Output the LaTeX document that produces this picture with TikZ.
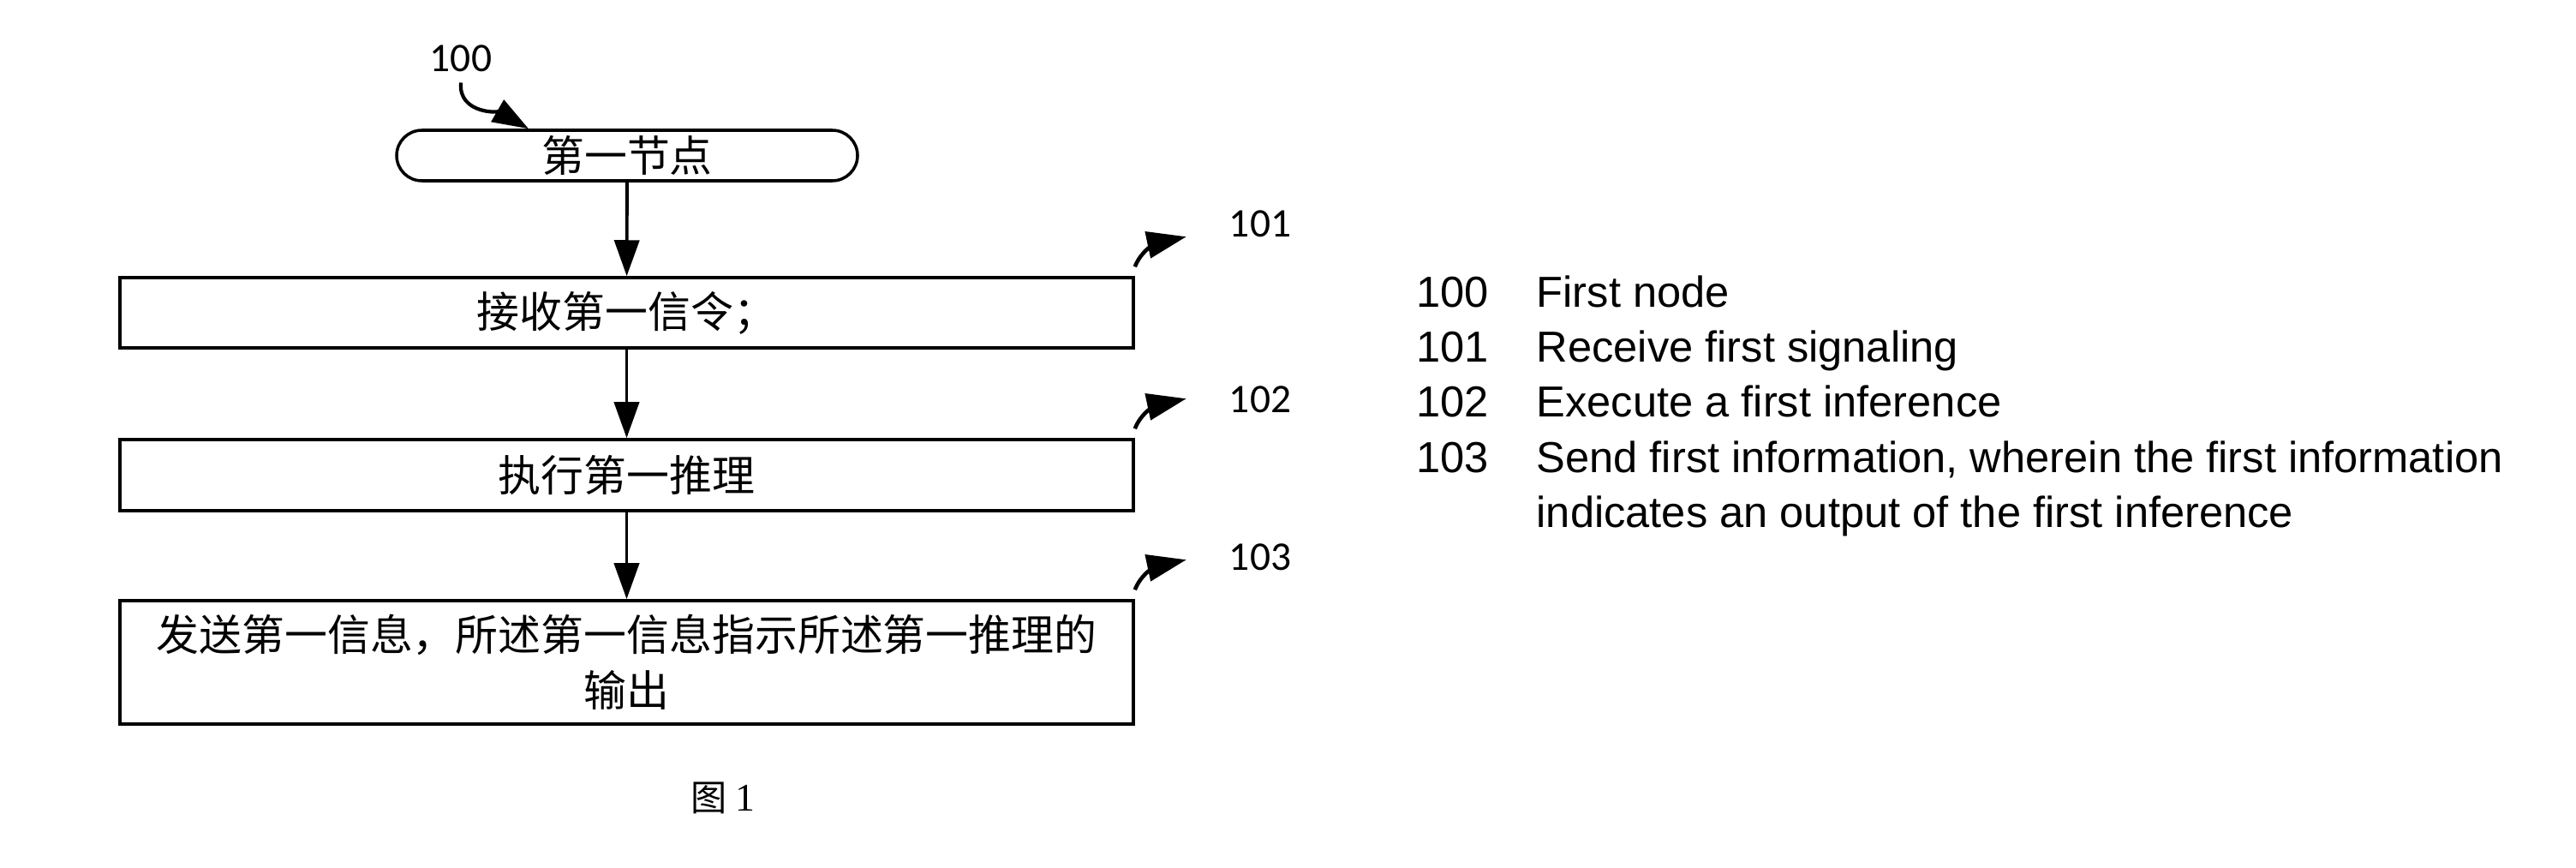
\documentclass[tikz,border=0pt]{standalone}
\usepackage{fontspec}
\setmainfont{Liberation Sans}
\newfontfamily\cjkfont{Noto Sans CJK SC}
\newfontfamily\reffont{Carlito}
\newfontfamily\capfont{Liberation Serif}
\usepackage{tikz}
\usetikzlibrary{arrows.meta,positioning}

\begin{document}
\begin{tikzpicture}[
  terminal/.style={draw, line width=1pt, rounded corners=2.95mm, minimum width=53.8mm, minimum height=5.9mm, inner sep=0pt, font=\cjkfont\fontsize{14.2pt}{18.4pt}\selectfont},
  stepbox/.style={draw, line width=1pt, minimum width=118.3mm, minimum height=8.2mm, inner sep=0pt, align=center, font=\cjkfont\fontsize{14.2pt}{18.4pt}\selectfont},
  refnum/.style={font=\reffont\fontsize{13.5pt}{16pt}\selectfont},
  legend/.style={anchor=base west, inner sep=0pt, font=\fontsize{14.4pt}{17pt}\selectfont},
  leader/.style={-{Triangle[length=4.6mm,width=3.1mm]}, line width=1.3pt},
  >={Triangle[length=4.2mm,width=2.9mm]}
]
\useasboundingbox (0,0) rectangle (30.07,-10.13);

% flow
\node[terminal] (n100) at (7.32,-1.815) {第一节点};
\node[stepbox]  (n101) at (7.315,-3.65) {接收第一信令；};
\node[stepbox, minimum height=8.3mm] (n102) at (7.315,-5.545) {执行第一推理};
\node[stepbox, minimum height=14.4mm] (n103) at (7.315,-7.73) {发送第一信息，所述第一信息指示所述第一推理的\\输出};

\draw[->, line width=1.1pt] (n100) -- (n101);
\draw[->, line width=1.1pt] (n101) -- (n102);
\draw[->, line width=1.1pt] (n102) -- (n103);

% reference numerals
\node[refnum] (l100) at (5.38,-0.685) {100};
\node[refnum] (l101) at (14.71,-2.61) {101};
\node[refnum] (l102) at (14.71,-4.665) {102};
\node[refnum] (l103) at (14.71,-6.50) {103};

\coordinate (p100) at ([xshift=-11.5mm]n100.north);
\draw[->, line width=1.2pt] (l100.south) to[out=-95,in=150] (p100);

\coordinate (s101) at ([yshift=1.1mm]n101.north east);
\coordinate (t101) at ([xshift=6mm,yshift=4.6mm]n101.north east);
\coordinate (s102) at ([yshift=1.1mm]n102.north east);
\coordinate (t102) at ([xshift=6mm,yshift=4.6mm]n102.north east);
\coordinate (s103) at ([yshift=1.1mm]n103.north east);
\coordinate (t103) at ([xshift=6mm,yshift=4.6mm]n103.north east);
\draw[leader] (s101) to[out=68,in=192] (t101);
\draw[leader] (s102) to[out=68,in=192] (t102);
\draw[leader] (s103) to[out=68,in=192] (t103);

% legend
\node[legend] (k100) at (16.53,-3.58) {100};
\node[legend] (d100) at (17.93,-3.58) {First node};
\node[legend] (k101) at (16.53,-4.22) {101};
\node[legend] (d101) at (17.93,-4.22) {Receive first signaling};
\node[legend] (k102) at (16.53,-4.865) {102};
\node[legend] (d102) at (17.93,-4.865) {Execute a first inference};
\node[legend] (k103) at (16.53,-5.51) {103};
\node[legend] (d103) at (17.93,-5.51) {Send first information, wherein the first information};
\node[legend] (d103b) at (17.93,-6.155) {indicates an output of the first inference};

% caption
\node[anchor=base, inner sep=0pt] (cap) at (8.44,-9.46) {{\cjkfont\fontsize{12pt}{14pt}\selectfont 图}\hspace{1mm}{\capfont\fontsize{13pt}{15pt}\selectfont 1}};
\end{tikzpicture}
\end{document}
